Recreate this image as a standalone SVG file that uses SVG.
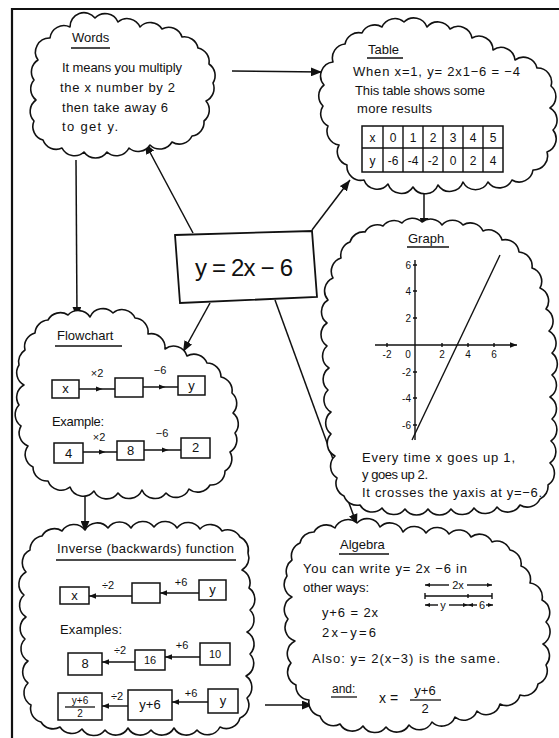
<svg xmlns="http://www.w3.org/2000/svg" width="559" height="738" viewBox="0 0 559 738">
<style>
text{font-family:"Liberation Sans","DejaVu Sans",sans-serif;fill:#111;font-size:13px}
.t{font-size:13px}
.m{text-anchor:middle}
.c{font-size:12px}
.lb{font-size:11px;text-anchor:middle}
.cloud{fill:#fff;stroke:#111;stroke-width:1.6;stroke-linejoin:round}
.bx{fill:none;stroke:#111;stroke-width:1.5}
.ln{fill:none;stroke:#111;stroke-width:1.4}
.ul{stroke:#111;stroke-width:1.3}
.con{fill:none;stroke:#111;stroke-width:1.5}
.ax{font-size:10px}
</style>
<defs>
<marker id="ah" viewBox="0 0 10 8" refX="10" refY="4" markerWidth="11" markerHeight="9" markerUnits="userSpaceOnUse" orient="auto"><path d="M0,0 L10,4 L0,8 z" fill="#111"/></marker>
<marker id="sm" viewBox="0 0 10 8" refX="10" refY="4" markerWidth="7" markerHeight="6" markerUnits="userSpaceOnUse" orient="auto"><path d="M0,0 L10,4 L0,8 z" fill="#111"/></marker>
<marker id="mid" viewBox="0 0 10 8" refX="5" refY="4" markerWidth="7" markerHeight="6" markerUnits="userSpaceOnUse" orient="auto"><path d="M0,0 L10,4 L0,8 z" fill="#111"/></marker>
<marker id="tiny" viewBox="0 0 10 8" refX="10" refY="4" markerWidth="5" markerHeight="4" markerUnits="userSpaceOnUse" orient="auto"><path d="M0,0 L10,4 L0,8 z" fill="#111"/></marker>
</defs>
<rect width="559" height="738" fill="#fff"/>
<path d="M12,738 V9 H559" fill="none" stroke="#111" stroke-width="2.2"/>

<g id="connectors">
<line class="con" x1="232" y1="71" x2="322" y2="72" marker-end="url(#ah)"/>
<line class="con" x1="193" y1="233" x2="145" y2="143" marker-end="url(#ah)"/>
<line class="con" x1="312" y1="230" x2="350" y2="180" marker-end="url(#ah)"/>
<line class="con" x1="424" y1="184" x2="424" y2="229" marker-end="url(#ah)"/>
<line class="con" x1="210" y1="303" x2="183" y2="352" marker-end="url(#ah)"/>
<line class="con" x1="275" y1="300" x2="357" y2="525" marker-end="url(#ah)"/>
<line class="con" x1="76" y1="160" x2="77" y2="318" marker-end="url(#ah)"/>
<line class="con" x1="85" y1="492" x2="85" y2="532" marker-end="url(#ah)"/>
<line class="con" x1="265" y1="705" x2="313" y2="705" marker-end="url(#ah)"/>
</g>

<g id="center">
<path d="M175,235 L312,231 L317,297 L180,303 Z" fill="#fff" stroke="#111" stroke-width="1.8"/>
<text x="195" y="276" style="font-size:24px" textLength="98" lengthAdjust="spacing">y = 2x − 6</text>
</g>

<g id="words">
<path class="cloud" d="M38,60 A14,14 0 0 1 50,38 A14,14 0 0 1 70,27 A14,14 0 0 1 95,18 A14,14 0 0 1 118,22 A14,14 0 0 1 140,27 A14,14 0 0 1 162,29 A14,14 0 0 1 182,37 A14,14 0 0 1 198,48 A14,14 0 0 1 209,64 A14,14 0 0 1 213,83 A14,14 0 0 1 206,101 A14,14 0 0 1 204,121 A14,14 0 0 1 192,136 A14,14 0 0 1 172,142 A14,14 0 0 1 150,145 A14,14 0 0 1 129,148 A14,14 0 0 1 107,152 A14,14 0 0 1 84,152 A14,14 0 0 1 62,148 A14,14 0 0 1 43,140 A14,14 0 0 1 34,121 A14,14 0 0 1 36,100 A14,14 0 0 1 34,80 A14,14 0 0 1 38,60 Z"/>
<text x="72" y="42" class="t">Words</text>
<line class="ul" x1="71" y1="48" x2="110" y2="48"/>
<text x="62" y="72" textLength="120" lengthAdjust="spacing">It means you multiply</text>
<text x="60" y="92" textLength="115" lengthAdjust="spacing">the x number by 2</text>
<text x="62" y="112" textLength="106" lengthAdjust="spacing">then take away 6</text>
<text x="62" y="131" textLength="56" lengthAdjust="spacing">to get y.</text>
</g>

<g id="table">
<path class="cloud" d="M324,85 A14,14 0 0 1 333,62 A14,14 0 0 1 345,44 A14,14 0 0 1 362,33 A14,14 0 0 1 382,27 A14,14 0 0 1 404,22 A14,14 0 0 1 427,27 A14,14 0 0 1 450,29 A14,14 0 0 1 472,38 A14,14 0 0 1 493,50 A14,14 0 0 1 515,60 A14,14 0 0 1 537,68 A14,14 0 0 1 551,86 A14,14 0 0 1 550,108 A14,14 0 0 1 553,130 A14,14 0 0 1 547,152 A14,14 0 0 1 533,170 A14,14 0 0 1 512,180 A14,14 0 0 1 488,182 A14,14 0 0 1 463,182 A14,14 0 0 1 438,185 A14,14 0 0 1 413,187 A14,14 0 0 1 388,184 A14,14 0 0 1 364,180 A14,14 0 0 1 347,165 A14,14 0 0 1 339,145 A14,14 0 0 1 328,126 A14,14 0 0 1 323,106 A14,14 0 0 1 324,85 Z"/>
<text x="368" y="54" class="t">Table</text>
<line class="ul" x1="367" y1="58" x2="403" y2="58"/>
<text x="353" y="76" textLength="167" lengthAdjust="spacing">When x=1,  y= 2x1−6  = −4</text>
<text x="355" y="95" textLength="130" lengthAdjust="spacing">This table shows some</text>
<text x="357" y="113" textLength="75" lengthAdjust="spacing">more results</text>
<rect class="bx" x="362" y="126" width="141" height="46"/>
<path class="ln" d="M362,148 H503 M383,126 V172 M403,126 V172 M423,126 V172 M443,126 V172 M463,126 V172 M483,126 V172"/>
<text x="372.5" y="142" class="m c">x</text><text x="393" y="142" class="m c">0</text><text x="413" y="142" class="m c">1</text><text x="433" y="142" class="m c">2</text><text x="453" y="142" class="m c">3</text><text x="473" y="142" class="m c">4</text><text x="493" y="142" class="m c">5</text>
<text x="372.5" y="165" class="m c">y</text><text x="393" y="165" class="m c">-6</text><text x="413" y="165" class="m c">-4</text><text x="433" y="165" class="m c">-2</text><text x="453" y="165" class="m c">0</text><text x="473" y="165" class="m c">2</text><text x="493" y="165" class="m c">4</text>
</g>

<g id="graph">
<path class="cloud" d="M328,300 A14,14 0 0 1 333,278 A14,14 0 0 1 341,258 A14,14 0 0 1 350,242 A14,14 0 0 1 365,232 A14,14 0 0 1 383,226 A14,14 0 0 1 402,223 A14,14 0 0 1 422,222 A14,14 0 0 1 442,225 A14,14 0 0 1 463,225 A14,14 0 0 1 483,231 A14,14 0 0 1 502,240 A14,14 0 0 1 519,252 A14,14 0 0 1 532,268 A14,14 0 0 1 540,288 A14,14 0 0 1 546,309 A14,14 0 0 1 549,331 A14,14 0 0 1 552,353 A14,14 0 0 1 552,375 A14,14 0 0 1 550,397 A14,14 0 0 1 552,419 A14,14 0 0 1 551,441 A14,14 0 0 1 550,463 A14,14 0 0 1 548,485 A14,14 0 0 1 540,499 A14,14 0 0 1 520,505 A14,14 0 0 1 497,507 A14,14 0 0 1 474,508 A14,14 0 0 1 451,509 A14,14 0 0 1 428,509 A14,14 0 0 1 405,509 A14,14 0 0 1 382,508 A14,14 0 0 1 360,505 A14,14 0 0 1 344,496 A14,14 0 0 1 337,478 A14,14 0 0 1 335,456 A14,14 0 0 1 331,434 A14,14 0 0 1 331,412 A14,14 0 0 1 328,390 A14,14 0 0 1 329,368 A14,14 0 0 1 327,346 A14,14 0 0 1 327,323 A14,14 0 0 1 328,300 Z"/>
<text x="408" y="243" class="t">Graph</text>
<line class="ul" x1="407" y1="247" x2="449" y2="247"/>
<line class="ln" x1="415" y1="260" x2="415" y2="440"/>
<line class="ln" x1="375" y1="345" x2="517" y2="345" marker-end="url(#sm)"/>
<path class="ln" d="M387,343 V347 M442,343 V347 M468,343 V347 M494,343 V347 M413,265 H417 M413,291 H417 M413,318 H417 M413,372 H417 M413,398 H417 M413,425 H417"/>
<text x="387" y="358" class="m ax">-2</text>
<text x="408" y="358" class="m ax">0</text>
<text x="442" y="358" class="m ax">2</text>
<text x="468" y="358" class="m ax">4</text>
<text x="494" y="358" class="m ax">6</text>
<text x="411" y="269" class="ax" text-anchor="end">6</text>
<text x="411" y="295" class="ax" text-anchor="end">4</text>
<text x="411" y="322" class="ax" text-anchor="end">2</text>
<text x="411" y="376" class="ax" text-anchor="end">-2</text>
<text x="411" y="402" class="ax" text-anchor="end">-4</text>
<text x="411" y="429" class="ax" text-anchor="end">-6</text>
<line class="ln" x1="412" y1="440" x2="500" y2="255"/>
<text x="362" y="462" textLength="153" lengthAdjust="spacing">Every time x goes up 1,</text>
<text x="362" y="479" textLength="66" lengthAdjust="spacing">y goes up 2.</text>
<text x="362" y="497" textLength="180" lengthAdjust="spacing">It crosses the yaxis at y=−6.</text>
</g>

<g id="flowchart">
<path class="cloud" d="M25,350 A14,14 0 0 1 35,333 A14,14 0 0 1 48,320 A14,14 0 0 1 68,315 A14,14 0 0 1 90,317 A14,14 0 0 1 113,313 A14,14 0 0 1 135,318 A14,14 0 0 1 148,334 A14,14 0 0 1 165,349 A14,14 0 0 1 187,356 A14,14 0 0 1 207,363 A14,14 0 0 1 221,377 A14,14 0 0 1 232,393 A14,14 0 0 1 233,413 A14,14 0 0 1 235,433 A14,14 0 0 1 230,452 A14,14 0 0 1 225,471 A14,14 0 0 1 210,485 A14,14 0 0 1 189,489 A14,14 0 0 1 166,493 A14,14 0 0 1 142,490 A14,14 0 0 1 118,493 A14,14 0 0 1 94,491 A14,14 0 0 1 70,487 A14,14 0 0 1 48,481 A14,14 0 0 1 33,467 A14,14 0 0 1 28,446 A14,14 0 0 1 21,426 A14,14 0 0 1 19,405 A14,14 0 0 1 24,385 A14,14 0 0 1 19,365 A14,14 0 0 1 25,350 Z"/>
<text x="57" y="340" class="t">Flowchart</text>
<line class="ul" x1="55" y1="346" x2="122" y2="346"/>
<rect class="bx" x="52" y="380" width="27" height="18"/>
<text x="65.5" y="393" class="m">x</text>
<path class="ln" d="M79,389 L99,389 L115,389" marker-mid="url(#mid)"/>
<text x="97" y="377" class="lb">×2</text>
<rect class="bx" x="115" y="378" width="28" height="19"/>
<path class="ln" d="M143,387 L162,387 L178,387" marker-mid="url(#mid)"/>
<text x="160" y="374" class="lb">−6</text>
<rect class="bx" x="178" y="376" width="27" height="19"/>
<text x="191.5" y="390" class="m">y</text>
<text x="52" y="426" textLength="52" lengthAdjust="spacing">Example:</text>
<rect class="bx" x="54" y="443" width="29" height="20"/>
<text x="68.5" y="458" class="m">4</text>
<path class="ln" d="M83,452 L102,452 L117,452" marker-mid="url(#mid)"/>
<text x="99" y="441" class="lb">×2</text>
<rect class="bx" x="117" y="441" width="27" height="19"/>
<text x="130.5" y="455" class="m">8</text>
<path class="ln" d="M144,450 L165,450 L181,450" marker-mid="url(#mid)"/>
<text x="162" y="437" class="lb">−6</text>
<rect class="bx" x="181" y="438" width="29" height="20"/>
<text x="195.5" y="452" class="m">2</text>
</g>

<g id="inverse">
<path class="cloud" d="M30,550 A14,14 0 0 1 42,536 A14,14 0 0 1 62,531 A14,14 0 0 1 85,530 A14,14 0 0 1 108,528 A14,14 0 0 1 131,528 A14,14 0 0 1 154,527 A14,14 0 0 1 177,528 A14,14 0 0 1 200,529 A14,14 0 0 1 222,531 A14,14 0 0 1 240,537 A14,14 0 0 1 248,553 A14,14 0 0 1 242,570 A14,14 0 0 1 249,588 A14,14 0 0 1 250,610 A14,14 0 0 1 247,632 A14,14 0 0 1 250,654 A14,14 0 0 1 246,676 A14,14 0 0 1 247,698 A14,14 0 0 1 240,718 A14,14 0 0 1 220,727 A14,14 0 0 1 197,730 A14,14 0 0 1 174,728 A14,14 0 0 1 151,730 A14,14 0 0 1 128,728 A14,14 0 0 1 105,730 A14,14 0 0 1 82,729 A14,14 0 0 1 60,727 A14,14 0 0 1 41,722 A14,14 0 0 1 31,705 A14,14 0 0 1 28,683 A14,14 0 0 1 28,661 A14,14 0 0 1 25,639 A14,14 0 0 1 26,617 A14,14 0 0 1 24,595 A14,14 0 0 1 26,572 A14,14 0 0 1 30,550 Z"/>
<text x="57" y="553" class="t" textLength="177" lengthAdjust="spacing">Inverse (backwards) function</text>
<line class="ul" x1="56" y1="560" x2="236" y2="560"/>
<rect class="bx" x="60" y="587" width="29" height="17"/>
<text x="74.5" y="600" class="m">x</text>
<line class="ln" x1="132" y1="596" x2="89" y2="596" marker-end="url(#sm)"/>
<text x="108" y="589" class="lb">÷2</text>
<rect class="bx" x="132" y="583" width="28" height="20"/>
<line class="ln" x1="199" y1="593" x2="160" y2="593" marker-end="url(#sm)"/>
<text x="181" y="586" class="lb">+6</text>
<rect class="bx" x="199" y="580" width="27" height="20"/>
<text x="212.5" y="594" class="m">y</text>
<text x="60" y="634" textLength="62" lengthAdjust="spacing">Examples:</text>
<rect class="bx" x="68" y="653" width="34" height="22"/>
<text x="85" y="668" class="m">8</text>
<line class="ln" x1="135" y1="662" x2="102" y2="662" marker-end="url(#sm)"/>
<text x="120" y="654" class="lb">÷2</text>
<rect class="bx" x="135" y="650" width="30" height="20"/>
<text x="150" y="664" class="m" style="font-size:11px">16</text>
<line class="ln" x1="200" y1="657" x2="165" y2="657" marker-end="url(#sm)"/>
<text x="182" y="649" class="lb">+6</text>
<rect class="bx" x="200" y="643" width="30" height="22"/>
<text x="215" y="658" class="m" style="font-size:11px">10</text>
<rect class="bx" x="58" y="693" width="44" height="27"/>
<text x="80" y="704" class="m" style="font-size:10px">y+6</text>
<line class="ul" x1="65" y1="707" x2="95" y2="707"/>
<text x="80" y="717" class="m" style="font-size:10px">2</text>
<line class="ln" x1="128" y1="706" x2="102" y2="706" marker-end="url(#sm)"/>
<text x="117" y="700" class="lb">÷2</text>
<rect class="bx" x="128" y="690" width="44" height="30"/>
<text x="150" y="709" class="m">y+6</text>
<line class="ln" x1="208" y1="702" x2="172" y2="702" marker-end="url(#sm)"/>
<text x="191" y="697" class="lb">+6</text>
<rect class="bx" x="208" y="689" width="30" height="24"/>
<text x="223" y="705" class="m">y</text>
</g>

<g id="algebra">
<path class="cloud" d="M292,560 A14,14 0 0 1 300,543 A14,14 0 0 1 314,532 A14,14 0 0 1 335,528 A14,14 0 0 1 357,523 A14,14 0 0 1 380,527 A14,14 0 0 1 403,532 A14,14 0 0 1 426,533 A14,14 0 0 1 449,534 A14,14 0 0 1 471,537 A14,14 0 0 1 492,542 A14,14 0 0 1 510,550 A14,14 0 0 1 521,566 A14,14 0 0 1 530,583 A14,14 0 0 1 542,600 A14,14 0 0 1 546,622 A14,14 0 0 1 543,644 A14,14 0 0 1 546,665 A14,14 0 0 1 538,684 A14,14 0 0 1 520,695 A14,14 0 0 1 500,704 A14,14 0 0 1 477,711 A14,14 0 0 1 455,717 A14,14 0 0 1 432,722 A14,14 0 0 1 409,725 A14,14 0 0 1 386,727 A14,14 0 0 1 363,726 A14,14 0 0 1 340,724 A14,14 0 0 1 320,716 A14,14 0 0 1 309,700 A14,14 0 0 1 296,685 A14,14 0 0 1 291,663 A14,14 0 0 1 295,641 A14,14 0 0 1 288,619 A14,14 0 0 1 292,597 A14,14 0 0 1 287,576 A14,14 0 0 1 292,560 Z"/>
<text x="340" y="549" class="t">Algebra</text>
<line class="ul" x1="339" y1="554" x2="389" y2="554"/>
<text x="303" y="573" textLength="164" lengthAdjust="spacing">You can write  y= 2x −6 in</text>
<text x="303" y="592" textLength="66" lengthAdjust="spacing">other ways:</text>
<text x="322" y="617" textLength="56" lengthAdjust="spacing">y+6 = 2x</text>
<text x="322" y="637" textLength="54" lengthAdjust="spacing">2x−y=6</text>
<text x="312" y="663" textLength="188" lengthAdjust="spacing">Also:  y= 2(x−3)  is the same.</text>
<text x="332" y="693" style="font-size:12px">and:</text>
<line class="ul" x1="331" y1="697" x2="357" y2="697"/>
<text x="379" y="703" style="font-size:14px">x =</text>
<text x="425" y="695" class="m">y+6</text>
<line class="ul" x1="410" y1="700" x2="441" y2="700"/>
<text x="425" y="713" class="m">2</text>
<line class="ln" x1="449" y1="585" x2="425" y2="585" marker-end="url(#tiny)"/>
<text x="458" y="589" class="m" style="font-size:11px">2x</text>
<line class="ln" x1="467" y1="585" x2="492" y2="585" marker-end="url(#tiny)"/>
<path class="ln" d="M425,596 H492 M425,593 V599 M468,594 V598 M492,593 V599"/>
<line class="ln" x1="438" y1="605" x2="425" y2="605" marker-end="url(#tiny)"/>
<text x="443" y="609" class="m" style="font-size:11px">y</text>
<line class="ln" x1="449" y1="605" x2="468" y2="605" marker-end="url(#tiny)"/>
<line class="ln" x1="477" y1="605" x2="468" y2="605" marker-end="url(#tiny)"/>
<text x="482" y="609" class="m" style="font-size:11px">6</text>
<line class="ln" x1="486" y1="605" x2="493" y2="605" marker-end="url(#tiny)"/>
</g>
</svg>
